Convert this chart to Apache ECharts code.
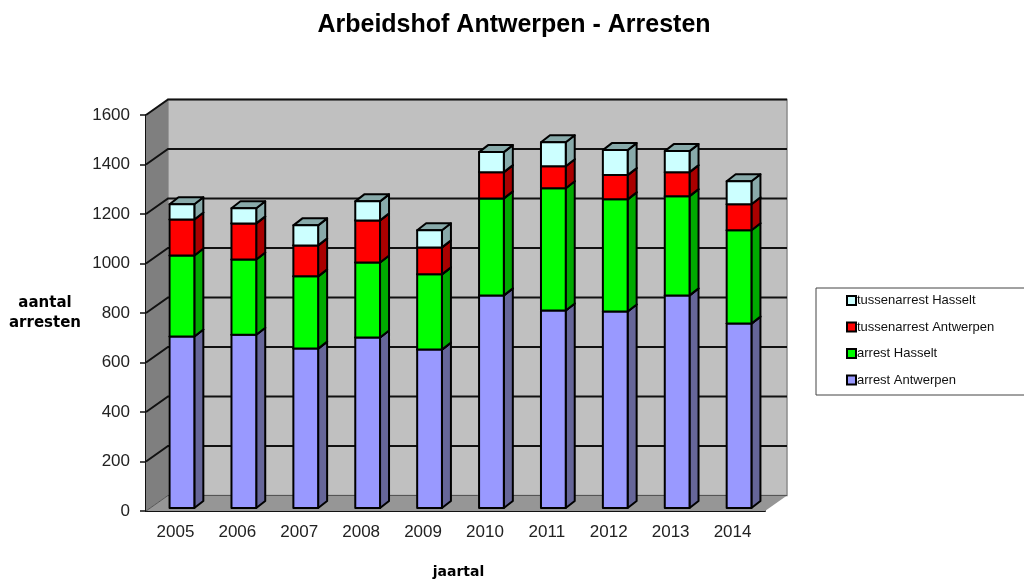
<!DOCTYPE html>
<html>
<head>
<meta charset="utf-8">
<title>Arbeidshof Antwerpen - Arresten</title>
<script src="https://cdn.jsdelivr.net/npm/echarts@6/dist/echarts.min.js"></script>
<style>
  html, body { margin: 0; padding: 0; background: #fff; }
  #chart { width: 1024px; height: 581px; }
</style>
</head>
<body>
<div id="chart"></div>
<script>
const years = ['2005', '2006', '2007', '2008', '2009', '2010', '2011', '2012', '2013', '2014'];
const arrestAntwerpen = [693, 700, 644, 689, 640, 859, 798, 794, 859, 745];
const arrestHasselt = [327, 304, 292, 303, 304, 392, 494, 453, 401, 377];
const tussenAntwerpen = [146, 146, 125, 170, 109, 106, 89, 98, 97, 105];
const tussenHasselt = [61, 61, 81, 77, 69, 81, 97, 101, 85, 93];
const yTicks = [0, 200, 400, 600, 800, 1000, 1200, 1400, 1600];

// depth of the fake 3D box and of the bars, in px
const wallDx = 22, wallDy = -15.5;
const barDx = 9, barDy = -7, barShiftX = 5, barShiftY = -3;

const font = '"Liberation Sans", Arial, sans-serif';
const nameFont = '"DejaVu Sans", Verdana, sans-serif';
const outline = {stroke: '#000', lineWidth: 2, lineJoin: 'round'};

function renderWalls(params, api) {
  const cs = params.coordSys;
  const x0 = cs.x, x1 = cs.x + cs.width;
  const y0 = cs.y + cs.height, y1 = cs.y;
  const children = [
    {type: 'polygon', shape: {points: [[x0 + wallDx, y1 + wallDy], [x1 + wallDx, y1 + wallDy], [x1 + wallDx, y0 + wallDy], [x0 + wallDx, y0 + wallDy]]},
      style: {fill: '#c0c0c0', stroke: '#8c8c8c', lineWidth: 1.5}},
    {type: 'polygon', shape: {points: [[x0, y1], [x0 + wallDx, y1 + wallDy], [x0 + wallDx, y0 + wallDy], [x0, y0]]},
      style: {fill: '#7f7f7f'}},
    {type: 'polygon', shape: {points: [[x0, y0], [x0 + wallDx, y0 + wallDy], [x1 + wallDx, y0 + wallDy], [x1, y0]]},
      style: {fill: '#969696'}}
  ];
  yTicks.forEach(t => {
    const y = api.coord([0, t])[1];
    children.push({type: 'polyline', shape: {points: [[x0, y], [x0 + wallDx, y + wallDy], [x1 + wallDx, y + wallDy]]},
      style: {fill: null, stroke: t === 0 ? '#555' : '#111', lineWidth: t === 0 ? 1 : 2}});
  });
  return {type: 'group', children: children};
}

function renderBar(front, side, top) {
  return function (params, api) {
    const p0 = api.coord([api.value(0), api.value(1)]);
    const p1 = api.coord([api.value(0), api.value(2)]);
    const w = api.size([1, 0])[0] * 0.4;
    const xl = p0[0] - w / 2 + barShiftX, xr = xl + w;
    const yb = p0[1] + barShiftY, yt = p1[1] + barShiftY;
    return {type: 'group', children: [
      {type: 'polygon', shape: {points: [[xr, yb], [xr + barDx, yb + barDy], [xr + barDx, yt + barDy], [xr, yt]]},
        style: Object.assign({fill: side}, outline)},
      {type: 'polygon', shape: {points: [[xl, yt], [xl + barDx, yt + barDy], [xr + barDx, yt + barDy], [xr, yt]]},
        style: Object.assign({fill: top}, outline)},
      {type: 'rect', shape: {x: xl, y: yt, width: w, height: yb - yt},
        style: Object.assign({fill: front}, outline)}
    ]};
  };
}

// stack the four groups on top of each other
const layers = [
  {name: 'arrest Antwerpen', values: arrestAntwerpen, front: '#9999ff', side: '#666699', top: '#7a7acc'},
  {name: 'arrest Hasselt', values: arrestHasselt, front: '#00ff00', side: '#00aa00', top: '#00cc00'},
  {name: 'tussenarrest Antwerpen', values: tussenAntwerpen, front: '#ff0000', side: '#aa0000', top: '#cc0000'},
  {name: 'tussenarrest Hasselt', values: tussenHasselt, front: '#ccffff', side: '#88aaaa', top: '#88aaaa'}
];
const running = years.map(() => 0);
const barSeries = layers.map(l => {
  const data = l.values.map((v, i) => {
    const row = [i, running[i], running[i] + v];
    running[i] += v;
    return row;
  });
  return {
    name: l.name,
    type: 'custom',
    renderItem: renderBar(l.front, l.side, l.top),
    encode: {x: 0, y: [1, 2]},
    itemStyle: {color: l.front},
    silent: true,
    z: 3,
    data: data
  };
});

const chart = echarts.init(document.getElementById('chart'));
chart.setOption({
  animation: false,
  backgroundColor: '#fff',
  title: {
    text: 'Arbeidshof Antwerpen - Arresten',
    left: 509,
    top: 8,
    textAlign: 'center',
    textStyle: {fontFamily: font, fontSize: 25, fontWeight: 'bold', color: '#000'}
  },
  grid: {left: 146, top: 115, width: 619, height: 396, outerBoundsMode: 'none'},
  xAxis: {
    type: 'category',
    data: years,
    name: 'jaartal',
    nameLocation: 'middle',
    nameGap: 54,
    nameTextStyle: {fontFamily: nameFont, fontSize: 14, fontWeight: 'bold', color: '#000', padding: [0, 0, 0, 6]},
    axisLine: {lineStyle: {color: '#111', width: 2}},
    axisTick: {length: 6, lineStyle: {color: '#111', width: 1.5}},
    axisLabel: {fontFamily: font, fontSize: 17, color: '#222', margin: 13, interval: 0, padding: [0, 3, 0, 0]}
  },
  yAxis: {
    type: 'value',
    min: 0,
    max: 1600,
    interval: 200,
    name: 'aantal\narresten',
    nameLocation: 'middle',
    nameRotate: 0,
    nameGap: 101,
    nameTextStyle: {fontFamily: nameFont, fontSize: 15, fontWeight: 'bold', color: '#000', lineHeight: 20, align: 'center', padding: [0, 0, 3, 0]},
    axisLine: {show: true, lineStyle: {color: '#111', width: 2}},
    axisTick: {show: true, length: 6, lineStyle: {color: '#111', width: 1.5}},
    axisLabel: {fontFamily: font, fontSize: 17, color: '#222', margin: 16, formatter: v => String(v)},
    splitLine: {show: false}
  },
  legend: {
    orient: 'vertical',
    left: 841,
    top: 294,
    padding: [0, 0, 0, 5],
    itemGap: 13.5,
    itemWidth: 9,
    itemHeight: 9,
    icon: 'rect',
    selectedMode: false,
    data: layers.map(l => l.name).reverse(),
    itemStyle: {borderColor: '#000', borderWidth: 2},
    textStyle: {fontFamily: font, fontSize: 13, color: '#111', padding: [0, 0, 0, -4], lineHeight: 13}
  },
  graphic: [{
    type: 'rect',
    z: -1,
    silent: true,
    shape: {x: 816, y: 288, width: 230, height: 107},
    style: {fill: '#fff', stroke: '#444', lineWidth: 1}
  }],
  series: [{
    type: 'custom',
    renderItem: renderWalls,
    encode: {x: 0, y: 1},
    silent: true,
    z: 1,
    data: [[0, 0]]
  }].concat(barSeries)
});
</script>
</body>
</html>
